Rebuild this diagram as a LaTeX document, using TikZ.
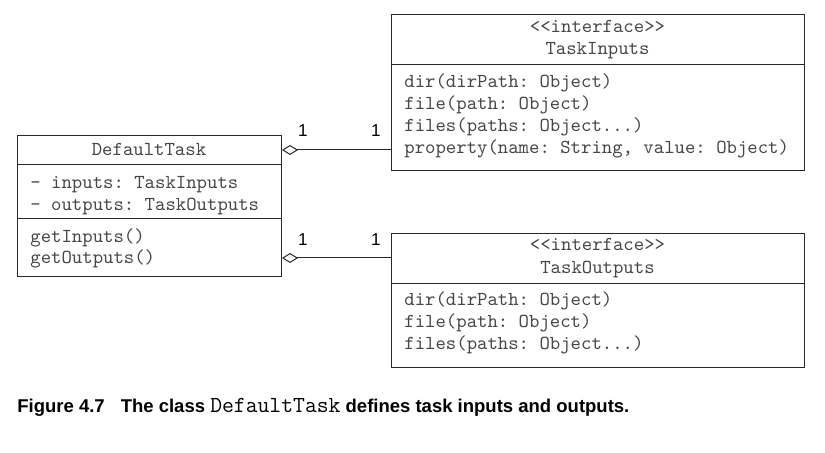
\documentclass[tikz,border=0pt]{standalone}
\usepackage{fontspec}
\setmainfont{Liberation Sans}
\usetikzlibrary{arrows.meta}
\definecolor{umltext}{RGB}{70,70,70}
\definecolor{umlline}{RGB}{40,40,40}
\frenchspacing

\begin{document}
\begin{tikzpicture}[x=0.5pt, y=-0.5pt,
    box/.style={draw=umlline, line width=0.5pt, anchor=north west, inner sep=0pt},
    sep/.style={umlline, line width=0.5pt},
    txt/.style={font=\fontsize{9.9pt}{11pt}\ttfamily, text=umltext, inner sep=0pt, text height=7.5pt, text depth=1.5pt},
    mult/.style={font=\fontsize{8.6pt}{10pt}\selectfont, inner sep=0pt},
    aggr/.style={umlline, line width=0.5pt, -{Diamond[open, length=8pt, width=5pt]}}]
    \useasboundingbox (0,0) rectangle (825,453);

    % DefaultTask
    \node[box, minimum width=132pt, minimum height=70.5pt] (dt) at (17,135) {};
    \draw[sep] (17,165) -- (281,165);
    \draw[sep] (17,219) -- (281,219);
    \node[txt] (dtname) at (149,150) {DefaultTask};
    \node[txt, anchor=west] (dtin) at (30,183) {- inputs: TaskInputs};
    \node[txt, anchor=west] (dtout) at (30,205) {- outputs: TaskOutputs};
    \node[txt, anchor=west] (dtgetin) at (30,237) {getInputs()};
    \node[txt, anchor=west] (dtgetout) at (30,258) {getOutputs()};

    % TaskInputs
    \node[box, minimum width=206.5pt, minimum height=78pt] (ti) at (391,14) {};
    \draw[sep] (391,65) -- (804,65);
    \node[txt] (tistereo) at (597.5,27) {<<interface>>};
    \node[txt] (tiname) at (597.5,49) {TaskInputs};
    \node[txt, anchor=west] (tidir) at (404,82) {dir(dirPath: Object)};
    \node[txt, anchor=west] (tifile) at (404,104) {file(path: Object)};
    \node[txt, anchor=west] (tifiles) at (404,126) {files(paths: Object...)};
    \node[txt, anchor=west] (tiprop) at (404,148) {property(name: String, value: Object)};

    % TaskOutputs
    \node[box, minimum width=206.5pt, minimum height=67pt] (to) at (391,233) {};
    \draw[sep] (391,284) -- (804,284);
    \node[txt] (tostereo) at (597.5,245) {<<interface>>};
    \node[txt] (toname) at (597.5,268) {TaskOutputs};
    \node[txt, anchor=west] (todir) at (404,300) {dir(dirPath: Object)};
    \node[txt, anchor=west] (tofile) at (404,322) {file(path: Object)};
    \node[txt, anchor=west] (tofiles) at (404,344) {files(paths: Object...)};

    % aggregations
    \draw[aggr] (ti.west |- dtname) -- (dt.east |- dtname);
    \draw[aggr] (to.west |- dtgetout) -- (dt.east |- dtgetout);
    \node[mult] (m1) at (303,131) {1};
    \node[mult] (m2) at (376,131) {1};
    \node[mult] (m3) at (303,240) {1};
    \node[mult] (m4) at (376,240) {1};

    % caption
    \node[anchor=base west, inner sep=0pt, font=\fontsize{9.25pt}{11pt}\selectfont\bfseries] (cap) at (17,413)
      {Figure 4.7\hspace{8pt}The class {\fontsize{11.5pt}{12pt}\ttfamily\mdseries DefaultTask} defines task inputs and outputs.};
\end{tikzpicture}
\end{document}
